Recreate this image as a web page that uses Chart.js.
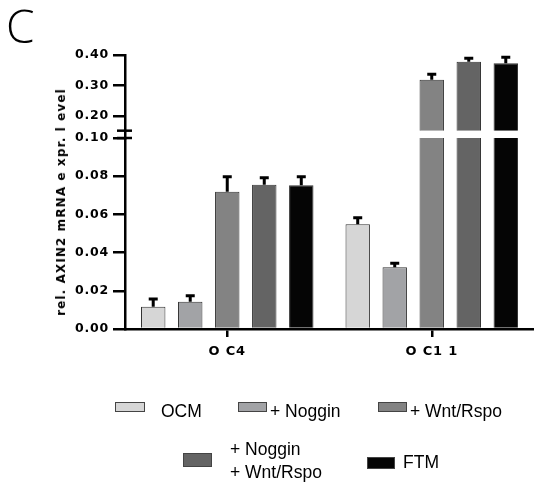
<!DOCTYPE html>
<html lang="en">
<head>
<meta charset="UTF-8">
<title>rel. AXIN2 mRNA expr. level</title>
<script src="https://cdn.jsdelivr.net/npm/chart.js"></script>
<style>
  body { margin: 0; background: #fff; font-family: "Liberation Sans", Arial, sans-serif; color: #000; }
  #wrap { position: relative; width: 534px; height: 483px; overflow: hidden; }
  #panel { position: absolute; left: 6px; top: -5px; font-family: "Open Sans", "Noto Sans", sans-serif; font-weight: 300; font-size: 46px; line-height: 60px; }
  #ytitle { position: absolute; left: 61px; top: 202px; transform: translate(-50%, -50%) rotate(-90deg);
            white-space: nowrap; font-family: "DejaVu Sans", sans-serif; font-weight: bold; font-size: 12px; letter-spacing: 1.1px; }
  .box { position: absolute; box-sizing: border-box; border: 1px solid #444; }
  .txt { position: absolute; font-size: 17.5px; line-height: 20px; white-space: nowrap; }
</style>
</head>
<body>
<div id="wrap">
  <canvas id="chart" width="534" height="483"></canvas>
  <div id="panel">C</div>
  <div id="ytitle">rel. AXIN2 mRNA e xpr. l evel</div>
  <div id="legend"></div>
</div>
<script>
// data
const labels = ['O C4', 'O C1 1'];
const names = ['OCM', '+ Noggin', '+ Wnt/Rspo', '+ Noggin|+ Wnt/Rspo', 'FTM'];
const ocm     = [0.0117, 0.0548];
const noggin  = [0.0143, 0.0323];
const wnt     = [0.0719, 0.319];
const nogWnt  = [0.0755, 0.378];
const ftm     = [0.0752, 0.373];
const ocmErr    = [0.0040, 0.0035];
const nogginErr = [0.0031, 0.0021];
const wntErr    = [0.0078, 0.018];
const nogWntErr = [0.0037, 0.011];
const ftmErr    = [0.0045, 0.020];
const lowerTicks = [0, 0.02, 0.04, 0.06, 0.08, 0.10];
const upperTicks = [0.20, 0.30, 0.40];

const series = [ocm, noggin, wnt, nogWnt, ftm];
const errors = [ocmErr, nogginErr, wntErr, nogWntErr, ftmErr];
const colors = ['#d6d6d6', '#a2a3a6', '#838383', '#646464', '#050505'];

// broken axis: lower part 0..0.10, upper part starts at 0.152
const lowerMax = 0.10;
const upperMin = 0.128;
const upperMax = 0.40;
const upperBase = 0.152;

const datasets = [];
series.forEach((vals, s) => {
  datasets.push({
    label: names[s],
    stack: 's' + s,
    yAxisID: 'y',
    data: vals.map(v => Math.min(v, lowerMax)),
    backgroundColor: colors[s],
    borderColor: '#333',
    borderWidth: c => (series[s][c.dataIndex] > lowerMax
      ? { left: 1, right: 1, top: 0, bottom: 0 } : 1)
  });
});
series.forEach((vals, s) => {
  datasets.push({
    label: names[s],
    stack: 's' + s,
    yAxisID: 'yUp',
    data: vals.map(v => (v > lowerMax ? [upperBase, v] : null)),
    backgroundColor: colors[s],
    borderColor: '#333',
    borderWidth: { left: 1, right: 1, top: 1, bottom: 0 }
  });
});

const spacing = {
  id: 'spacing',
  beforeUpdate(c) { c.ctx.letterSpacing = '0.8px'; },
  beforeLayout(c) { c.ctx.letterSpacing = '0.8px'; },
  beforeDraw(c) { c.ctx.letterSpacing = '0.8px'; }
};

const errorBars = {
  id: 'errorBars',
  afterDatasetsDraw(chart) {
    const ctx = chart.ctx;
    const low = chart.scales.y, up = chart.scales.yUp;
    ctx.save();
    ctx.strokeStyle = '#000';
    ctx.lineWidth = 3;
    series.forEach((vals, s) => {
      vals.forEach((v, i) => {
        const broken = v > lowerMax;
        const bar = chart.getDatasetMeta(broken ? s + series.length : s).data[i];
        const scale = broken ? up : low;
        const y0 = scale.getPixelForValue(v);
        const y1 = scale.getPixelForValue(v + errors[s][i]);
        ctx.beginPath();
        ctx.moveTo(bar.x, y0);
        ctx.lineTo(bar.x, y1);
        ctx.moveTo(bar.x - 4.5, y1);
        ctx.lineTo(bar.x + 4.5, y1);
        ctx.stroke();
      });
    });
    // break marks on the y axis
    const ax = chart.chartArea.left;
    ctx.lineWidth = 2.5;
    [up.getPixelForValue(upperBase), low.getPixelForValue(lowerMax)].forEach(py => {
      ctx.beginPath();
      ctx.moveTo(ax - 8, py);
      ctx.lineTo(ax + 7, py);
      ctx.stroke();
    });
    ctx.restore();
  }
};

const tickFont = { family: '"DejaVu Sans", sans-serif', size: 12.5, weight: 'bold' };
const yGrid = { drawOnChartArea: false, tickLength: 12, lineWidth: 2.5, tickWidth: 2.5, tickColor: '#000' };
const yBorder = { color: '#000', width: 2.5 };

new Chart(document.getElementById('chart'), {
  type: 'bar',
  data: { labels, datasets },
  plugins: [spacing, errorBars],
  options: {
    responsive: false,
    animation: false,
    devicePixelRatio: 1,
    categoryPercentage: 0.905,
    barPercentage: 0.66,
    layout: { padding: { top: 55, bottom: 114, left: 0, right: 0 } },
    plugins: { legend: { display: false }, tooltip: { enabled: false } },
    scales: {
      x: {
        type: 'category',
        offset: true,
        afterFit: s => { s.height = 40; },
        grid: { drawOnChartArea: false, offset: false, tickLength: 8, lineWidth: 2.5, tickWidth: 2.5, tickColor: '#000' },
        border: { color: '#000', width: 2.5 },
        ticks: { font: { ...tickFont, size: 13 }, color: '#000', padding: 7, maxRotation: 0 }
      },
      y: {
        type: 'linear', position: 'left', stack: 'v', stackWeight: 191, stacked: false,
        min: 0, max: lowerMax,
        afterBuildTicks: s => { s.ticks = lowerTicks.map(v => ({ value: v })); },
        afterFit: s => { s.width = 125; },
        grid: yGrid, border: yBorder,
        ticks: { font: tickFont, color: '#000', padding: 4, callback: v => Number(v).toFixed(2) }
      },
      yUp: {
        type: 'linear', position: 'left', stack: 'v', stackWeight: 83, stacked: false,
        min: upperMin, max: upperMax,
        afterBuildTicks: s => { s.ticks = upperTicks.map(v => ({ value: v })); },
        afterFit: s => { s.width = 125; },
        grid: yGrid, border: yBorder,
        ticks: { font: tickFont, color: '#000', padding: 4, callback: v => Number(v).toFixed(2) }
      }
    }
  }
});

// legend laid out like the figure: two rows
const legendLayout = [
  { box: [115, 402, 30, 10], text: [[161, 401]] },
  { box: [238, 402, 29, 10], text: [[270, 401]] },
  { box: [378, 402, 29, 10], text: [[410, 401]] },
  { box: [183, 453, 29, 14], text: [[230, 439], [230, 462]] },
  { box: [367, 457, 28, 12], text: [[403, 452]] }
];
const legend = document.getElementById('legend');
names.forEach((n, s) => {
  const L = legendLayout[s];
  const b = document.createElement('div');
  b.className = 'box';
  b.style.cssText = `left:${L.box[0]}px;top:${L.box[1]}px;width:${L.box[2]}px;height:${L.box[3]}px;background:${colors[s]}`;
  legend.appendChild(b);
  n.split('|').forEach((part, k) => {
    const t = document.createElement('div');
    t.className = 'txt';
    t.style.left = L.text[k][0] + 'px';
    t.style.top = L.text[k][1] + 'px';
    t.textContent = part;
    legend.appendChild(t);
  });
});
</script>
</body>
</html>
